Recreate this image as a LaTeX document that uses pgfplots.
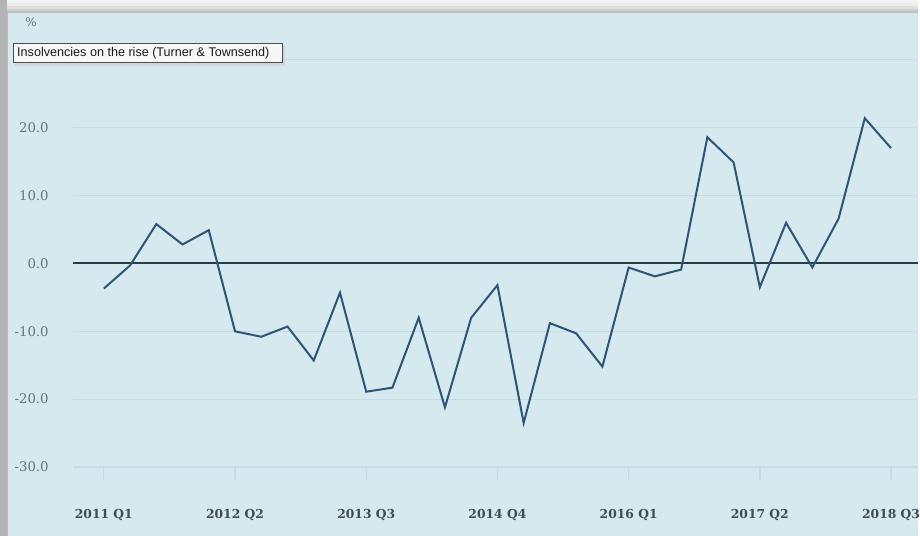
\documentclass[border=0pt]{standalone}
\usepackage{fontspec}
\setmainfont{DejaVu Serif}
\newfontfamily\tipfont{Liberation Sans}
\usepackage{pgfplots}
\pgfplotsset{compat=1.18}
\definecolor{bgblue}{HTML}{D5E9EF}
\definecolor{gridc}{HTML}{C4DCE3}
\definecolor{zeroc}{HTML}{2B3B47}
\definecolor{linec}{HTML}{2F5475}
\definecolor{ylab}{HTML}{62747A}
\definecolor{xlab}{HTML}{3F4C52}
\definecolor{framec}{HTML}{B4B4B4}

\pgfplotstableread{
idx val
0 -3.7
1 -0.3
2 5.8
3 2.8
4 4.9
5 -10.0
6 -10.8
7 -9.3
8 -14.3
9 -4.3
10 -18.9
11 -18.3
12 -8.0
13 -21.2
14 -8.0
15 -3.2
16 -23.5
17 -8.8
18 -10.3
19 -15.2
20 -0.6
21 -1.9
22 -0.9
23 18.6
24 14.9
25 -3.5
26 6.0
27 -0.6
28 6.6
29 21.4
30 17.0
}\datatable

\begin{document}
\begin{tikzpicture}
\begin{scope}[x=0.75bp,y=-0.75bp]
\useasboundingbox (0,0) rectangle (920,537);
\fill[gray!10] (0,0) rectangle (920,537);
\fill[gray!16] (0,3) rectangle (920,6);
\fill[gray!25] (0,6) rectangle (920,9);
\fill[gray!38] (0,9) rectangle (920,11);
\fill[gray!50] (0,11) rectangle (920,13);
\fill[framec] (0,0) rectangle (7,537);
\fill[gray!55] (6,13) rectangle (8,537);
\fill[bgblue] (8,13) rectangle (920,537);
\end{scope}
\begin{axis}[
  at={(54.75bp,-351bp)}, anchor=south west,
  scale only axis, width=635.25bp, height=342bp,
  xmin=-1.18, xmax=31.03, ymin=-30, ymax=37.06,
  axis line style={draw=none},
  tick align=outside,
  xtick pos=bottom, ytick pos=left,
  major tick length=9.75bp,
  xtick style={gridc, line width=1pt},
  ytick style={draw=none},
  xtick={0,5,10,15,20,25,30},
  xticklabels={2011 Q1,2012 Q2,2013 Q3,2014 Q4,2016 Q1,2017 Q2,2018 Q3},
  ytick={-30,-20,-10,0,10,20,30},
  yticklabels={-30.0,-20.0,-10.0,0.0,10.0,20.0,{}},
  ymajorgrids,
  grid style={gridc, line width=0.9pt},
  extra y ticks={0},
  extra y tick labels={},
  extra y tick style={grid style={zeroc, line width=1.5pt}},
  yticklabel style={anchor=east, inner sep=0pt, xshift=-18bp+9.75bp, text=ylab,
     font=\fontsize{10}{12}\selectfont},
  xticklabel style={anchor=center, inner sep=0pt, yshift=-26bp, text=xlab,
     font=\bfseries\fontsize{9.3}{11}\selectfont},
  clip=false,
]
\addplot[linec, line width=1.5bp, mark=none] table[x=idx, y=val] {\datatable};
\end{axis}
\begin{scope}[x=0.75bp,y=-0.75bp]
\node[text=ylab, font=\fontsize{9}{10}\selectfont] at (31,22) {\%};
\fill[gray!40, opacity=0.6] (15,45) rectangle (286,66);
\draw[draw=gray!60!black, fill=white!94!gray, line width=0.6pt] (13,43) rectangle (283,63);
\node[anchor=west, inner sep=0pt, text=gray!20!black] at (17,53)
  {\tipfont\fontsize{9.5}{11}\selectfont Insolvencies on the rise (Turner \& Townsend)};
\end{scope}
\end{tikzpicture}
\end{document}
